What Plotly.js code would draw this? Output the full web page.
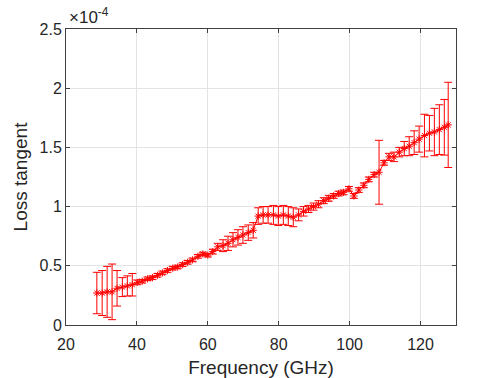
<!DOCTYPE html>
<html>
<head>
<meta charset="utf-8">
<script src="https://cdn.plot.ly/plotly-3.0.1.min.js"></script>
<style>html,body{margin:0;padding:0;background:#fff}#chart{width:504px;height:378px}</style>
</head>
<body>
<div id="chart"></div>
<script>
// Frequency in GHz
const freq = [28.7, 30.2, 31.6, 33.0, 34.4, 35.9, 37.3, 38.7, 40.1, 41.5,
  43.0, 44.4, 45.8, 47.2, 48.6, 50.1, 51.5, 52.9, 54.3, 55.7,
  57.2, 58.6, 60.0, 61.4, 62.8, 64.3, 65.7, 67.1, 68.5, 69.9,
  71.4, 72.8, 74.2, 75.6, 77.0, 78.5, 79.9, 81.3, 82.7, 84.1,
  85.6, 87.0, 88.4, 89.8, 91.2, 92.7, 94.1, 95.5, 96.9, 98.3,
  99.8, 101.2, 102.6, 104.0, 105.4, 106.9, 108.3, 109.7, 111.1, 112.5,
  114.0, 115.4, 116.8, 118.2, 119.6, 121.1, 122.5, 123.9, 125.3, 126.7, 127.8];
// Loss tangent in units of 1e-4
const lossTangent = [0.27, 0.27, 0.28, 0.28, 0.31, 0.32, 0.33, 0.34, 0.36, 0.37,
  0.39, 0.40, 0.42, 0.44, 0.46, 0.48, 0.49, 0.51, 0.53, 0.55,
  0.58, 0.60, 0.59, 0.62, 0.66, 0.67, 0.69, 0.72, 0.74, 0.76,
  0.78, 0.80, 0.92, 0.93, 0.93, 0.93, 0.92, 0.93, 0.92, 0.91,
  0.93, 0.96, 0.98, 1.00, 1.02, 1.05, 1.07, 1.09, 1.11, 1.12,
  1.15, 1.09, 1.14, 1.18, 1.23, 1.27, 1.29, 1.37, 1.42, 1.42,
  1.46, 1.49, 1.51, 1.54, 1.57, 1.60, 1.62, 1.63, 1.65, 1.67, 1.69];
// Error (units of 1e-4)
const errorBar = [0.175, 0.19, 0.215, 0.235, 0.15, 0.08, 0.085, 0.095, 0.02, 0.015,
  0.015, 0.015, 0.015, 0.015, 0.015, 0.015, 0.015, 0.015, 0.015, 0.015,
  0.015, 0.015, 0.015, 0.02, 0.03, 0.05, 0.06, 0.06, 0.065, 0.07,
  0.065, 0.065, 0.07, 0.07, 0.07, 0.08, 0.08, 0.08, 0.08, 0.08,
  0.05, 0.04, 0.03, 0.03, 0.03, 0.025, 0.025, 0.02, 0.02, 0.02,
  0.02, 0.02, 0.02, 0.02, 0.02, 0.02, 0.27, 0.02, 0.03, 0.04,
  0.04, 0.06, 0.08, 0.10, 0.11, 0.18, 0.15, 0.20, 0.21, 0.235, 0.36];

const xTicks = [20, 40, 60, 80, 100, 120];
const yTicks = [0, 0.5, 1, 1.5, 2, 2.5];
const yTickText = ['0', '0.5', '1', '1.5', '2', '2.5'];

const trace = {
  x: freq, y: lossTangent, type: 'scatter', mode: 'lines+markers',
  line: {color: '#ff0000', width: 1},
  marker: {symbol: 'asterisk-open', size: 6, color: '#ff0000', line: {color: '#ff0000', width: 1}},
  error_y: {type: 'data', array: errorBar, visible: true, color: '#ff0000', thickness: 1, width: 4},
  showlegend: false
};

const fontFam = 'Liberation Sans, Arial, sans-serif';
const layout = {
  width: 504, height: 378,
  margin: {l: 66, r: 48, t: 29, b: 53},
  paper_bgcolor: '#ffffff', plot_bgcolor: '#ffffff',
  font: {family: fontFam, color: '#262626', size: 16},
  xaxis: {
    range: [20, 130], tickvals: xTicks, ticktext: xTicks.map(String),
    showgrid: true, gridcolor: '#e3e3e3', gridwidth: 1,
    showline: true, linecolor: '#404040', linewidth: 1, mirror: 'ticks',
    ticks: 'inside', ticklen: 4, tickcolor: '#404040', zeroline: false,
    ticklabelstandoff: 5,
    tickfont: {size: 16, family: fontFam, color: '#262626'},
    title: {text: 'Frequency (GHz)', font: {size: 19, family: fontFam, color: '#262626'}, standoff: 9}
  },
  yaxis: {
    range: [0, 2.5], tickvals: yTicks, ticktext: yTickText,
    showgrid: true, gridcolor: '#e3e3e3', gridwidth: 1,
    showline: true, linecolor: '#404040', linewidth: 1, mirror: 'ticks',
    ticks: 'inside', ticklen: 4, tickcolor: '#404040', zeroline: false,
    tickfont: {size: 16, family: fontFam, color: '#262626'},
    title: {text: 'Loss tangent', font: {size: 19, family: fontFam, color: '#262626'}, standoff: 6}
  },
  annotations: [{
    xref: 'paper', yref: 'paper', x: 0, y: 1, xanchor: 'left', yanchor: 'bottom',
    xshift: 1, yshift: 0,
    text: '×10<sup>-4</sup>', showarrow: false,
    font: {size: 17, family: fontFam, color: '#262626'}
  }]
};

Plotly.newPlot('chart', [trace], layout, {displayModeBar: false, staticPlot: true});
</script>
</body>
</html>
